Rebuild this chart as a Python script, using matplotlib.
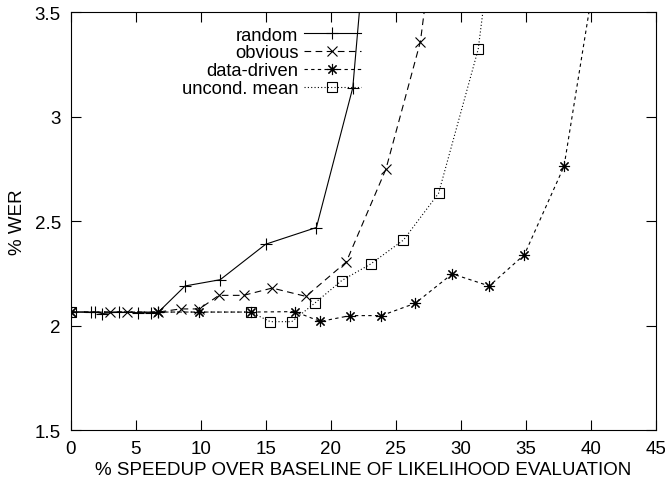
import matplotlib
matplotlib.use("Agg")
import matplotlib.pyplot as plt

plt.rcParams['font.family'] = ['Liberation Sans', 'DejaVu Sans']

# Data
random_x = [0, 1.6, 1.9, 2.4, 3.7, 5.2, 6.2, 6.75, 8.8, 11.5, 15.0, 18.9, 21.7, 22.9]
random_y = [2.065, 2.065, 2.065, 2.058, 2.065, 2.062, 2.062, 2.065, 2.19, 2.22, 2.39, 2.47, 3.14, 4.0]

obvious_x = [0, 3.0, 4.3, 6.75, 8.45, 9.9, 11.4, 13.3, 15.5, 18.1, 21.2, 24.25, 26.9, 28.0]
obvious_y = [2.065, 2.065, 2.065, 2.065, 2.08, 2.08, 2.145, 2.145, 2.18, 2.14, 2.305, 2.75, 3.36, 3.9]

datadriven_x = [0, 6.75, 9.9, 13.85, 17.25, 19.2, 21.5, 23.9, 26.5, 29.35, 32.2, 34.9, 37.95, 40.9]
datadriven_y = [2.065, 2.065, 2.065, 2.065, 2.067, 2.02, 2.048, 2.048, 2.107, 2.248, 2.19, 2.34, 2.763, 3.9]

uncond_x = [0, 13.85, 15.35, 17.0, 18.8, 20.85, 23.07, 25.6, 28.3, 31.35, 32.5]
uncond_y = [2.065, 2.065, 2.019, 2.019, 2.109, 2.216, 2.295, 2.41, 2.634, 3.325, 3.9]

labels = ["random", "obvious", "data-driven", "uncond. mean"]
x_ticks = [0, 5, 10, 15, 20, 25, 30, 35, 40, 45]
y_ticks = [1.5, 2, 2.5, 3, 3.5]
y_tick_labels = ["1.5", "2", "2.5", "3", "3.5"]

fig = plt.figure(figsize=(6.65, 4.89), dpi=100)
ax = fig.add_axes([0.1063, 0.1186, 0.8797, 0.8538])

lw = 0.8
ax.plot(random_x, random_y, color='black', lw=lw, linestyle='-',
        marker='+', markersize=8, markeredgewidth=lw, label=labels[0])
ax.plot(obvious_x, obvious_y, color='black', lw=lw, linestyle=(0, (6, 4)),
        marker='x', markersize=7, markeredgewidth=lw, label=labels[1])
ax.plot(datadriven_x, datadriven_y, color='black', lw=lw, linestyle=(0, (3, 3)),
        marker=(8, 2, 0), markersize=8, markeredgewidth=lw, label=labels[2])
ax.plot(uncond_x, uncond_y, color='black', lw=lw, linestyle=(0, (1, 2)),
        marker='s', markersize=7, markerfacecolor='none', markeredgewidth=lw,
        label=labels[3])

ax.set_xlim(0, 45)
ax.set_ylim(1.5, 3.5)
ax.set_xticks(x_ticks)
ax.set_yticks(y_ticks)
ax.set_yticklabels(y_tick_labels)
ax.tick_params(direction='in', length=7, width=0.8, top=True, right=True,
               labelsize=13.5, pad=7)
for s in ax.spines.values():
    s.set_linewidth(0.8)

ax.set_xlabel("% SPEEDUP OVER BASELINE OF LIKELIHOOD EVALUATION", fontsize=13.5, labelpad=3)
ax.set_ylabel("% WER", fontsize=13.5, labelpad=6)

leg = ax.legend(loc='upper right', bbox_to_anchor=(0.518, 0.997), frameon=False,
                markerfirst=False, fontsize=13.2, handlelength=3.1,
                labelspacing=0.05, handletextpad=0.3, borderpad=0.2)

fig.savefig("out.png", dpi=100)
